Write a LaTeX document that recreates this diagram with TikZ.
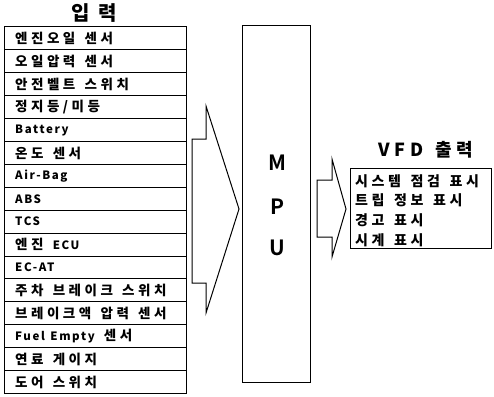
\documentclass[tikz,border=0pt]{standalone}
\usepackage{fontspec}
\setmainfont{Noto Sans CJK KR}[BoldFont={* Bold}]
\newfontfamily\kr{Noto Sans CJK KR}[LetterSpace=26,WordSpace=1.4]
\newfontfamily\ttlfont{Noto Sans CJK KR}[LetterSpace=45,WordSpace=1.4]
\newfontfamily\lt{Noto Sans CJK KR}[LetterSpace=14,WordSpace=1.3]
\newcommand{\la}[1]{{\lt\fontsize{11.5}{12}\selectfont #1}}
\begin{document}
\begin{tikzpicture}[x=1pt,y=-1pt,
  rowbox/.style={draw,line width=1pt,minimum width=182pt,minimum height=22.9pt,anchor=north west,inner sep=0pt,outer sep=0pt},
  rowtext/.style={anchor=west,inner sep=0pt,font=\kr\bfseries\fontsize{13.5}{14}\selectfont},
  vtext/.style={anchor=west,inner sep=0pt,font=\kr\bfseries\fontsize{14}{15}\selectfont},
  ttl/.style={inner sep=0pt,font=\ttlfont\bfseries\fontsize{20}{21}\selectfont},
  letter/.style={inner sep=0pt,font=\bfseries\fontsize{21}{22}\selectfont},
  blk/.style={draw,line width=1pt,fill=white,line join=miter}]
\useasboundingbox (0,0) rectangle (494,396);
\node[ttl] (tin) at (94,13) {입력};
\foreach \i/\t in {1/{엔진오일 센서},2/{오일압력 센서},3/{안전벨트 스위치},4/{정지등/미등},5/{\la{Battery}},6/{온도 센서},7/{\la{Air-Bag}},8/{\la{ABS}},9/{\la{TCS}},10/{엔진 \la{ECU}},11/{\la{EC-AT}},12/{주차 브레이크 스위치},13/{브레이크액 압력 센서},14/{\la{Fuel Empty} 센서},15/{연료 게이지},16/{도어 스위치}}{
  \node[rowbox] (r\i) at (4,{27+(\i-1)*22.9}) {};
  \node[rowtext] (t\i) at ([xshift=11pt]r\i.west) {\t};
}
% MPU
\node[draw,line width=1pt,minimum width=68pt,minimum height=357pt,anchor=north west,inner sep=0pt] (mpu) at (242,25) {};
\node[letter] (m) at (277,163) {M};
\node[letter] (p) at (277,207) {P};
\node[letter] (u) at (277,248) {U};
% input arrow
\draw[blk] (192,139) -- (206,139) -- (206,106) -- (239,209) -- (206,313) -- (206,283) -- (192,283) -- cycle;
% output arrow
\draw[blk] (317,180) -- (332,180) -- (332,159) -- (346,209) -- (332,257) -- (332,237) -- (317,237) -- cycle;
% VFD
\node[ttl,font=\kr\bfseries\fontsize{18}{19}\selectfont] (tout) at (426,150) {VFD 출력};
\node[draw,line width=1pt,minimum width=141pt,minimum height=80pt,anchor=north west,inner sep=0pt] (vfd) at (350,168) {};
\foreach \i/\t in {1/{시스템 점검 표시},2/{트립 정보 표시},3/{경고 표시},4/{시계 표시}}{
  \node[vtext] (v\i) at (355,{181+(\i-1)*19.7}) {\t};
}
\end{tikzpicture}
\end{document}
